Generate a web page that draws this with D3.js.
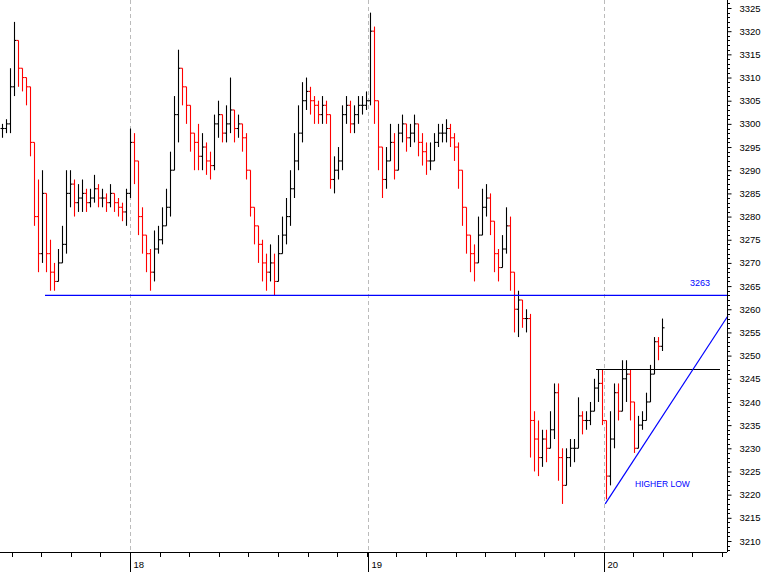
<!DOCTYPE html>
<html><head><meta charset="utf-8">
<script src="https://cdn.jsdelivr.net/npm/d3@7"></script>
<style>body{margin:0;background:#fff}svg{display:block}text{font-family:"Liberation Sans",Arial,sans-serif}</style>
</head><body><div id="chart"></div>
<script>
// bar index -> close (open is previous close)
const closes = [3299,3300,3308,3318,3312,3310,3308,3296,3280,3272,3285,3272,3268,3266,3270,3274,3285,3287,3283,3284,
  3285,3283,3284,3286,3284,3284,3283,3285,3283,3282,3281,3285,3296,3292,3280,3276,3272,3268,3273,3275,
  3278,3282,3290,3302,3312,3308,3304,3298,3296,3293,3295,3292,3291,3300,3302,3298,3300,3303,3299,3300,
  3297,3290,3282,3278,3274,3270,3268,3270,3266,3272,3276,3280,3286,3292,3298,3305,3307,3305,3304,3302,
  3304,3302,3288,3290,3292,3302,3304,3300,3302,3304,3304,3305,3320,3305,3295,3288,3292,3296,3290,3298,
  3300,3297,3298,3300,3296,3294,3292,3292,3296,3298,3298,3299,3297,3295,3290,3282,3276,3272,3270,3276,
  3282,3284,3279,3272,3269,3273,3278,3268,3260,3262,3258,3258,3236,3232,3228,3232,3230,3234,3242,3228,
  3222,3228,3230,3230,3237,3236,3236,3238,3243,3244,3236,3224,3232,3242,3238,3245,3246,3240,3230,3235,
  3236,3240,3246,3253,3252,3256];
const highs = [3300,3301,3312,3322,3315,3311,3310,3300,3295,3288,3290,3285,3275,3270,3273,3278,3290,3290,3288,3287,
  3288,3286,3286,3289,3287,3286,3285,3287,3285,3284,3283,3286,3299,3298,3290,3282,3276,3273,3277,3278,
  3282,3286,3294,3306,3316,3312,3308,3302,3298,3300,3298,3296,3294,3302,3305,3302,3304,3310,3303,3302,
  3300,3298,3290,3282,3278,3275,3272,3274,3272,3276,3280,3284,3290,3298,3304,3309,3310,3308,3306,3305,
  3306,3305,3302,3293,3295,3304,3306,3305,3304,3306,3306,3307,3324,3321,3300,3295,3295,3300,3298,3300,
  3302,3300,3300,3302,3300,3298,3296,3296,3298,3300,3300,3301,3300,3298,3296,3290,3282,3276,3274,3280,
  3286,3287,3285,3276,3273,3276,3282,3280,3268,3264,3262,3260,3259,3238,3236,3234,3234,3238,3244,3244,
  3230,3230,3232,3232,3241,3238,3238,3240,3245,3247,3247,3236,3238,3244,3244,3249,3249,3247,3236,3237,
  3238,3242,3248,3254,3254,3258];
const lows = [3297,3298,3298,3306,3308,3307,3304,3293,3278,3268,3270,3268,3264,3264,3266,3270,3272,3282,3280,3281,
  3281,3281,3282,3283,3282,3282,3281,3282,3281,3280,3279,3278,3284,3287,3276,3272,3268,3264,3266,3272,
  3274,3278,3280,3290,3296,3304,3300,3294,3290,3290,3290,3289,3288,3290,3297,3296,3296,3298,3296,3297,
  3294,3288,3280,3274,3270,3266,3264,3266,3263,3266,3272,3274,3278,3284,3290,3296,3303,3302,3300,3300,
  3300,3300,3286,3285,3288,3290,3300,3298,3298,3300,3302,3303,3304,3300,3290,3284,3286,3292,3288,3290,
  3296,3294,3295,3296,3293,3291,3289,3290,3292,3295,3296,3296,3295,3292,3286,3278,3272,3268,3266,3270,
  3278,3280,3276,3268,3266,3269,3272,3264,3255,3254,3256,3255,3228,3225,3224,3226,3227,3230,3232,3223,
  3218,3222,3226,3227,3230,3233,3234,3235,3238,3240,3235,3219,3222,3230,3236,3238,3240,3236,3229,3232,
  3234,3236,3240,3246,3249,3251];
const dayLabels = ["18", "19", "20"];
const dayStartBar = [32, 91.5, 150.5];
const supportLevel = 3263;
const resistanceLevel = 3247;
const trendFrom = [150.8, 3218];
const trendTo = [181.5, 3258.6];

const W = 768, H = 572;
const plotRight = 727, plotBottom = 552;
const svg = d3.select('#chart').append('svg').attr('width', W).attr('height', H);

const x = d3.scaleLinear().domain([0, 1]).range([2, 6]);
const y = d3.scaleLinear().domain([3210, 3325]).range([541, 8]);

// day separators
svg.selectAll('line.day').data(dayStartBar).enter().append('line')
  .attr('x1', d => Math.round(x(d)) + 0.5).attr('x2', d => Math.round(x(d)) + 0.5)
  .attr('y1', 0).attr('y2', plotBottom)
  .attr('stroke', '#bbb').attr('stroke-dasharray', '4,3');

// bars
const bars = closes.map((c, i) => {
  const o = i ? closes[i - 1] : c;
  return {i, o, c, h: Math.max(highs[i], o, c), l: Math.min(lows[i], o, c)};
});
const g = svg.append('g').attr('stroke-width', 1.1);
bars.forEach(b => {
  const col = b.c < b.o ? '#f00' : '#000';
  const cx = Math.round(x(b.i)) + 0.5;
  g.append('line').attr('x1', cx).attr('x2', cx).attr('y1', y(b.h)).attr('y2', y(b.l)).attr('stroke', col);
  g.append('line').attr('x1', cx - 2).attr('x2', cx).attr('y1', y(b.o)).attr('y2', y(b.o)).attr('stroke', col);
  g.append('line').attr('x1', cx).attr('x2', cx + 2).attr('y1', y(b.c)).attr('y2', y(b.c)).attr('stroke', col);
});

// annotations
svg.append('line').attr('x1', 45).attr('x2', plotRight).attr('y1', y(supportLevel)).attr('y2', y(supportLevel))
  .attr('stroke', '#00f').attr('stroke-width', 1.2);
svg.append('text').attr('x', 700).attr('y', y(supportLevel) - 9).attr('text-anchor', 'middle')
  .attr('font-size', 9).attr('fill', '#00f').text(supportLevel);
svg.append('line').attr('x1', 596).attr('x2', 720).attr('y1', y(resistanceLevel)).attr('y2', y(resistanceLevel))
  .attr('stroke', '#000').attr('stroke-width', 1.2);
svg.append('line').attr('x1', x(trendFrom[0])).attr('y1', y(trendFrom[1]))
  .attr('x2', x(trendTo[0])).attr('y2', y(trendTo[1])).attr('stroke', '#00f').attr('stroke-width', 1.2);
svg.append('text').attr('x', 635).attr('y', 487).attr('font-size', 8.5).attr('fill', '#00f').text('HIGHER LOW');

// right price axis
const yAxis = d3.axisRight(y).tickValues(d3.range(3210, 3326, 5)).tickSize(4).tickPadding(8).tickFormat(d3.format('d'));
const ya = svg.append('g').attr('transform', `translate(${plotRight + 0.5},0)`).call(yAxis);
ya.select('.domain').attr('d', `M0,0V${plotBottom}`);
ya.selectAll('text').attr('font-size', 9.5).attr('font-family', '"Liberation Sans",Arial,sans-serif');
svg.append('g').selectAll('line').data(d3.range(3208, 3327).filter(v => v % 5)).enter().append('line')
  .attr('x1', plotRight + 0.5).attr('x2', plotRight + 3).attr('y1', d => Math.round(y(d)) + 0.5).attr('y2', d => Math.round(y(d)) + 0.5)
  .attr('stroke', '#000');

// bottom time axis
svg.append('line').attr('x1', 0).attr('x2', plotRight).attr('y1', plotBottom + 0.5).attr('y2', plotBottom + 0.5).attr('stroke', '#000');
svg.append('g').selectAll('line').data(d3.range(0, 25).map(k => dayStartBar[0] + (k - 4) * 7.4)).enter().append('line')
  .filter(d => x(d) > 0 && x(d) < plotRight)
  .attr('x1', d => Math.round(x(d)) + 0.5).attr('x2', d => Math.round(x(d)) + 0.5)
  .attr('y1', plotBottom).attr('y2', plotBottom + 5).attr('stroke', '#000');
dayStartBar.forEach((d, k) => {
  const px = Math.round(x(d)) + 0.5;
  svg.append('line').attr('x1', px).attr('x2', px).attr('y1', plotBottom).attr('y2', H).attr('stroke', '#000');
  svg.append('text').attr('x', px + 3).attr('y', 568).attr('font-size', 9.5).text(dayLabels[k]);
});
</script></body></html>
